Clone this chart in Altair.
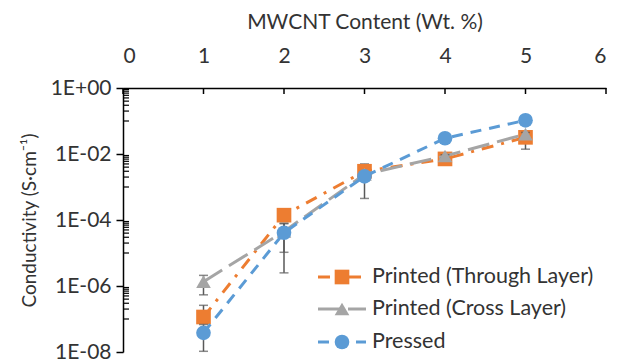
import altair as alt
import pandas as pd

# ---------------- data ----------------
wt = [1, 2, 3, 4, 5]
series_names = ["Printed (Through Layer)", "Printed (Cross Layer)", "Pressed"]

through_val = [1.15e-7, 1.4e-4, 3.0e-3, 7.1e-3, 3.2e-2]
through_lo = [1.0e-7, 1.1e-4, 4.5e-4, 6.5e-3, 1.4e-2]
through_hi = [2.6e-7, 1.8e-4, 5.0e-3, 8.0e-3, 4.6e-2]

cross_val = [1.35e-6, 4.5e-5, 2.4e-3, 8.7e-3, 4.0e-2]
cross_lo = [5.4e-7, 1.05e-5, 2.0e-3, 7.5e-3, 3.5e-2]
cross_hi = [2.1e-6, 8.0e-5, 2.8e-3, 9.5e-3, 4.5e-2]

pressed_val = [3.8e-8, 4.1e-5, 2.1e-3, 3.0e-2, 1.05e-1]
pressed_lo = [1.05e-8, 2.5e-6, 1.8e-3, 2.7e-2, 9.5e-2]
pressed_hi = [6.8e-8, 7.7e-5, 2.4e-3, 3.3e-2, 1.0e-1]

x_ticks = [0, 1, 2, 3, 4, 5, 6]
y_ticks = [1e-8, 1e-6, 1e-4, 1e-2, 1]
y_tick_labels = ["1E-08", "1E-06", "1E-04", "1E-02", "1E+00"]

colors = ["#ED7D31", "#A5A5A5", "#5B9BD5"]
dashes = [[12, 8, 3, 8], [22, 8], [11, 8]]
shapes = ["square", "triangle-up", "circle"]

FONT = "Lato"
TXT = "#333333"
W, H = 483, 264

# ---------------- scales / axes ----------------
xscale = alt.Scale(domain=[0, 6], nice=False, zero=False)
yscale = alt.Scale(type="log", domain=[1e-8, 1], nice=False)

label_expr = " : ".join(
    [f"abs(datum.value - {v}) < {v}*0.01 ? '{l}'" for v, l in zip(y_ticks, y_tick_labels)]
) + " : ''"

xaxis = alt.Axis(
    orient="top", values=x_ticks, tickSize=0, labelPadding=22, format="d",
    title="MWCNT Content (Wt. %)", titlePadding=13, grid=False,
    domainColor="black", domainWidth=1.5,
)
yaxis = alt.Axis(
    orient="left", values=y_ticks, tickSize=7, tickColor="black", tickWidth=1.5,
    labelExpr=label_expr, labelPadding=5, grid=False,
    title="Conductivity (S·cm⁻¹)", titlePadding=11, titleFontSize=19,
    domainColor="black", domainWidth=1.5,
)

X = lambda f: alt.X(f, type="quantitative", scale=xscale, axis=xaxis)
Y = lambda f: alt.Y(f, type="quantitative", scale=yscale, axis=yaxis)

layers = []

# minor ticks (inside) on y axis
minor = [m * 10.0 ** e for e in [-1, -3, -5, -7] for m in range(1, 10)]
layers.append(
    alt.Chart(pd.DataFrame({"v": minor})).mark_rule(color="black", strokeWidth=1.2).encode(
        y=Y("v"), x=alt.value(0), x2=alt.value(6)
    )
)
# x ticks (inside)
layers.append(
    alt.Chart(pd.DataFrame({"t": x_ticks})).mark_rule(color="black", strokeWidth=1.5).encode(
        x=X("t"), y=alt.value(0), y2=alt.value(6)
    )
)

vals = [through_val, cross_val, pressed_val]
los = [through_lo, cross_lo, pressed_lo]
his = [through_hi, cross_hi, pressed_hi]

for i, name in enumerate(series_names):
    df = pd.DataFrame({"x": wt, "y": vals[i], "lo": los[i], "hi": his[i]})
    base = alt.Chart(df)
    layers.append(
        base.mark_line(color=colors[i], strokeWidth=3, strokeDash=dashes[i]).encode(
            x=X("x"), y=Y("y")
        )
    )
    layers.append(
        base.mark_rule(color="#595959", strokeWidth=1.5).encode(
            x=X("x"), y=Y("lo"), y2="hi"
        )
    )
    for f in ["lo", "hi"]:
        layers.append(
            base.mark_tick(orient="horizontal", color="#595959", size=9, thickness=1.5).encode(
                x=X("x"), y=Y(f)
            )
        )
    layers.append(
        base.mark_point(shape=shapes[i], filled=True, color=colors[i], size=215, opacity=1).encode(
            x=X("x"), y=Y("y")
        )
    )

# legend (manual, inside plot)
legend_y = [189, 221, 254]
for i, name in enumerate(series_names):
    ldf = pd.DataFrame({"name": [name]})
    lb = alt.Chart(ldf)
    layers.append(
        lb.mark_rule(color=colors[i], strokeWidth=3, strokeDash=dashes[i]).encode(
            x=alt.value(195), x2=alt.value(243), y=alt.value(legend_y[i])
        )
    )
    layers.append(
        lb.mark_point(shape=shapes[i], filled=True, color=colors[i], size=215, opacity=1).encode(
            x=alt.value(219), y=alt.value(legend_y[i])
        )
    )
    layers.append(
        lb.mark_text(align="left", baseline="middle", font=FONT, fontSize=21.5, color=TXT).encode(
            x=alt.value(249), y=alt.value(legend_y[i]), text="name:N"
        )
    )

chart = alt.layer(*layers).properties(
    width=W, height=H,
    autosize=alt.AutoSizeParams(type="none"),
    padding={"left": 123, "top": 88, "right": 12, "bottom": 12},
).configure_view(stroke=None).configure_axis(
    labelFont=FONT, titleFont=FONT, labelFontSize=21, titleFontSize=21,
    labelColor=TXT, titleColor=TXT, titleFontWeight="normal",
)

chart.save("out.html", embed_options={"renderer": "svg", "actions": False})
